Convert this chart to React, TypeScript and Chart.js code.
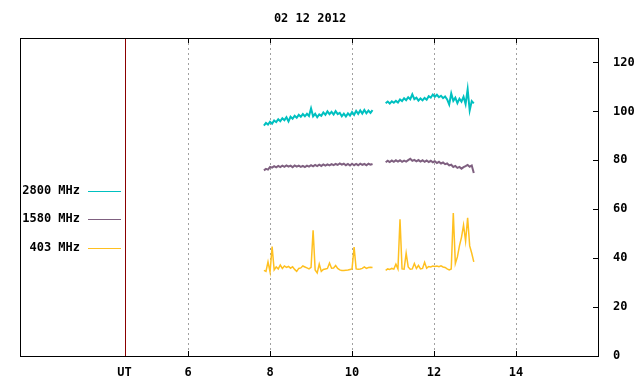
import { useEffect, useRef } from "react";
import { Chart, registerables } from "chart.js";

Chart.register(...registerables);

const TITLE = "02 12 2012";
const SERIES_NAMES = ["2800 MHz", "1580 MHz", "403 MHz"];
const SERIES_COLORS = ["#00c0c0", "#7f6080", "#ffc020"];
const SERIES_WIDTHS = [2, 2, 1.5];
const X_MIN = 1.9;
const X_MAX = 16;
const UT_POS = 4.45;
const X_TICKS = [6, 8, 10, 12, 14];
const Y_MAX = 130;
const Y_TICKS = [0, 20, 40, 60, 80, 100, 120];

// sampling of the two observation blocks (hours UT)
const SEG1_START = 7.85;
const SEG2_START = 10.82;
const STEP = 0.05;

const f2800a = [
  94.2, 95.3, 94.6, 95.8, 95.0, 96.3, 95.6, 96.8, 96.0, 97.2, 96.4, 97.6, 95.9, 97.8, 97.0, 98.2, 97.4, 98.6,
  97.8, 98.9, 98.0, 99.0, 98.1, 101.2, 98.0, 99.0, 97.6, 98.8, 98.2, 99.6, 98.6, 100.0, 98.9, 99.8, 98.7, 100.1,
  98.9, 99.4, 98.0, 99.1, 97.9, 99.2, 98.3, 99.7, 98.6, 100.2, 99.0, 100.4, 99.1, 100.6, 99.2, 100.3, 99.4, 100.5,
];
const f2800b = [
  103.3, 104.0, 103.2, 104.1, 103.5, 104.3, 103.6, 104.9, 104.2, 105.4, 104.6, 105.8, 105.0, 107.0, 105.0, 105.6,
  104.4, 105.3, 104.5, 105.5, 104.8, 106.2, 105.6, 106.9, 106.0, 106.8, 105.8, 106.4, 105.4, 106.1, 104.9, 102.8,
  107.3, 104.3, 105.6, 103.4, 105.2, 104.0, 106.0, 103.0, 109.0, 100.4, 104.2, 103.3,
];
const f1580a = [
  75.9, 76.5, 76.2, 77.3, 77.0, 77.6, 77.1, 77.7, 77.2, 77.8, 77.3, 77.9, 77.4, 77.8, 77.2, 77.9, 77.4, 77.8,
  77.3, 77.7, 77.2, 77.8, 77.4, 78.0, 77.5, 78.1, 77.6, 78.2, 77.7, 78.3, 77.8, 78.3, 77.9, 78.4, 78.0, 78.5,
  78.1, 78.7, 78.2, 78.6, 78.0, 78.5, 77.9, 78.6, 78.0, 78.5, 78.0, 78.6, 78.1, 78.5, 78.0, 78.6, 78.2, 78.5,
];
const f1580b = [
  79.2, 79.8, 79.3, 79.9, 79.4, 80.0, 79.5, 80.0, 79.4, 79.9, 79.5, 80.1, 80.6, 79.8, 80.2, 79.6, 80.1, 79.5,
  80.0, 79.4, 79.9, 79.3, 79.8, 79.2, 79.6, 78.9, 79.4, 78.7, 79.1, 78.4, 78.7, 77.9, 78.2, 77.3, 77.7, 76.9,
  77.3, 76.6, 77.2, 77.6, 78.1, 77.4, 77.9, 74.8,
];
const f403a = [
  35.0, 34.6, 38.5, 34.4, 44.7, 35.2, 36.4, 35.6, 37.2, 35.8, 36.8, 36.2, 36.6, 35.9, 36.5, 35.4, 34.6, 35.8,
  36.0, 36.8, 36.4, 36.0, 35.6, 36.2, 51.4, 35.2, 34.0, 37.6, 34.6, 35.4, 35.6, 35.8, 38.0, 35.9, 36.0, 37.0,
  35.8, 35.2, 35.0, 35.0, 35.1, 35.2, 35.4, 35.6, 44.5, 35.6, 35.5, 35.6, 35.8, 36.4, 35.8, 36.2, 36.3, 36.2,
];
const f403b = [
  35.0, 35.6, 35.4, 35.8, 35.5, 37.5, 35.6, 55.9, 35.6, 35.5, 42.0, 36.4, 35.5, 35.6, 37.8, 35.8, 37.0, 35.6,
  35.8, 38.3, 35.9, 36.6, 36.4, 36.8, 36.6, 36.8, 36.5, 36.9, 36.4, 36.2, 35.6, 35.2, 35.6, 58.4, 37.8, 40.5,
  45.0, 48.5, 53.5, 47.0, 56.5, 45.0, 42.0, 38.5,
];

const SERIES = [
  [f2800a, f2800b],
  [f1580a, f1580b],
  [f403a, f403b],
];

function toPoints(a: number[], b: number[]) {
  return [
    ...a.map((y, i) => ({ x: SEG1_START + i * STEP, y })),
    { x: (SEG1_START + (a.length - 1) * STEP + SEG2_START) / 2, y: null as any },
    ...b.map((y, i) => ({ x: SEG2_START + i * STEP, y })),
  ];
}

const FONT_FAMILY = "'DejaVu Sans Mono', 'Liberation Mono', monospace";
const FONT = `bold 12px ${FONT_FAMILY}`;

const decor = {
  id: "decor",
  beforeDatasetsDraw(chart: any) {
    const { ctx, chartArea: a, scales } = chart;
    const x = scales.x;
    ctx.save();
    ctx.lineWidth = 1;
    ctx.strokeStyle = "#a0a0a0";
    ctx.setLineDash([2, 3]);
    X_TICKS.forEach((v) => {
      const px = Math.round(x.getPixelForValue(v)) + 0.5;
      ctx.beginPath();
      ctx.moveTo(px, a.top);
      ctx.lineTo(px, a.bottom);
      ctx.stroke();
    });
    ctx.setLineDash([]);
    ctx.strokeStyle = "#8b0000";
    const ux = Math.round(x.getPixelForValue(UT_POS)) + 0.5;
    ctx.beginPath();
    ctx.moveTo(ux, a.top);
    ctx.lineTo(ux, a.bottom);
    ctx.stroke();
    ctx.restore();
  },
  afterDraw(chart: any) {
    const { ctx, chartArea: a, scales } = chart;
    const x = scales.x;
    const y = scales.y;
    ctx.save();
    ctx.lineWidth = 1;
    ctx.strokeStyle = "#000";
    ctx.strokeRect(a.left + 0.5, a.top + 0.5, a.right - a.left, a.bottom - a.top);
    ctx.beginPath();
    X_TICKS.forEach((v) => {
      const px = Math.round(x.getPixelForValue(v)) + 0.5;
      ctx.moveTo(px, a.top);
      ctx.lineTo(px, a.top + 5);
      ctx.moveTo(px, a.bottom);
      ctx.lineTo(px, a.bottom - 5);
    });
    Y_TICKS.forEach((v) => {
      const py = Math.round(y.getPixelForValue(v)) + 0.5;
      ctx.moveTo(a.right, py);
      ctx.lineTo(a.right - 5, py);
    });
    ctx.stroke();

    ctx.fillStyle = "#000";
    ctx.font = FONT;
    ctx.textAlign = "center";
    ctx.textBaseline = "middle";
    ctx.fillText(TITLE, 310, 19);

    const rows = [191, 219, 248];
    SERIES_NAMES.forEach((name, i) => {
      ctx.textAlign = "right";
      ctx.fillStyle = "#000";
      ctx.fillText(name, 80, rows[i]);
      ctx.strokeStyle = SERIES_COLORS[i];
      ctx.beginPath();
      ctx.moveTo(88, rows[i] + 0.5);
      ctx.lineTo(121, rows[i] + 0.5);
      ctx.stroke();
    });
    ctx.restore();
  },
};

export default function App() {
  const ref = useRef<HTMLCanvasElement>(null);
  useEffect(() => {
    const canvas = ref.current!;
    const chart = new Chart(canvas, {
      type: "line",
      data: {
        datasets: SERIES.map(([a, b], i) => ({
          label: SERIES_NAMES[i],
          data: toPoints(a, b) as any,
          borderColor: SERIES_COLORS[i],
          backgroundColor: SERIES_COLORS[i],
          borderWidth: SERIES_WIDTHS[i],
          pointRadius: 0,
          tension: 0,
          spanGaps: false,
        })),
      },
      options: {
        animation: false,
        responsive: false,
        devicePixelRatio: 1,
        events: [],
        layout: { padding: { top: 38, left: 20, right: 0, bottom: 0 } },
        plugins: { legend: { display: false }, title: { display: false }, tooltip: { enabled: false } },
        scales: {
          x: {
            type: "linear",
            min: X_MIN,
            max: X_MAX,
            grid: { display: false },
            border: { display: false },
            afterBuildTicks: (s: any) => {
              s.ticks = [UT_POS, ...X_TICKS].map((v) => ({ value: v }));
            },
            afterFit: (s: any) => {
              s.height = 28;
            },
            ticks: {
              autoSkip: false,
              maxRotation: 0,
              padding: 2,
              color: "#000",
              font: { family: FONT_FAMILY, size: 12, weight: "bold" },
              callback: (v: any) => (v === UT_POS ? "UT" : String(v)),
            },
          },
          y: {
            type: "linear",
            position: "right",
            min: 0,
            max: Y_MAX,
            grid: { display: false },
            border: { display: false },
            afterBuildTicks: (s: any) => {
              s.ticks = Y_TICKS.map((v) => ({ value: v }));
            },
            afterFit: (s: any) => {
              s.width = 42;
            },
            ticks: {
              padding: 7,
              color: "#000",
              font: { family: FONT_FAMILY, size: 12, weight: "bold" },
              callback: (v: any) => String(v),
            },
          },
        },
      },
      plugins: [decor],
    });
    return () => chart.destroy();
  }, []);
  return (
    <div style={{ position: "absolute", left: 0, top: 0, width: 640, height: 384, background: "#fff" }}>
      <canvas ref={ref} width={640} height={384} style={{ display: "block", width: 640, height: 384 }} />
    </div>
  );
}
